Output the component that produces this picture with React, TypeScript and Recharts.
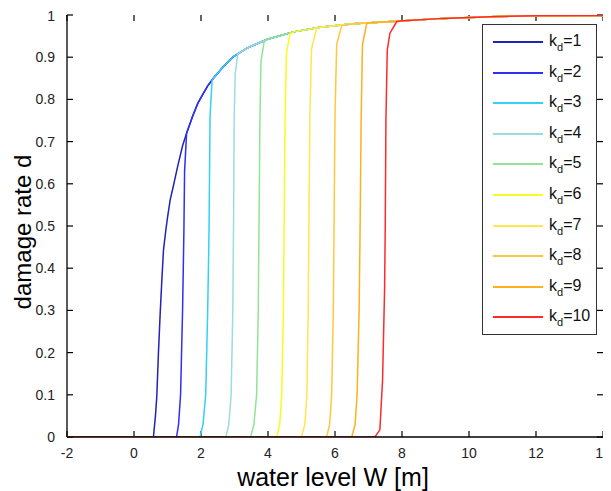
import { LineChart, Line, XAxis, YAxis, Label, ReferenceLine } from "recharts";

// common upper curve (kd=1 follows it from the start)
const envW = [0.58, 0.64, 0.68, 0.73, 0.78, 0.83, 0.88, 0.95, 1.0, 1.08, 1.17, 1.3, 1.45, 1.57, 1.75, 1.9, 2.07, 2.2, 2.37, 2.67, 2.96, 3.36, 3.96, 4.76, 5.55, 6.55, 7.94, 9.23, 10.63, 12, 14];
const envD = [0, 0.05, 0.095, 0.2, 0.29, 0.37, 0.443, 0.49, 0.52, 0.562, 0.593, 0.64, 0.69, 0.72, 0.76, 0.79, 0.814, 0.832, 0.85, 0.878, 0.901, 0.921, 0.942, 0.96, 0.971, 0.979, 0.986, 0.992, 0.996, 0.998, 0.999];

// steep rise of each curve until it meets the upper curve
const rampW: number[][] = [
  [],
  [1.27, 1.33, 1.39, 1.45, 1.49, 1.51, 1.57],
  [1.97, 2.06, 2.14, 2.2, 2.24, 2.27, 2.33],
  [2.74, 2.83, 2.9, 2.95, 2.97, 2.99, 3.02, 3.1],
  [3.48, 3.58, 3.66, 3.71, 3.73, 3.76, 3.79, 3.88],
  [4.26, 4.35, 4.41, 4.46, 4.48, 4.51, 4.55, 4.66],
  [5.0, 5.1, 5.16, 5.2, 5.22, 5.25, 5.3, 5.45],
  [5.75, 5.84, 5.9, 5.95, 5.97, 6.0, 6.05, 6.2],
  [6.5, 6.6, 6.66, 6.72, 6.75, 6.78, 6.82, 6.95],
  [7.19, 7.34, 7.42, 7.48, 7.5, 7.52, 7.56, 7.64, 7.84],
];
const rampD: number[][] = [
  [],
  [0, 0.03, 0.1, 0.3, 0.49, 0.63, 0.72],
  [0, 0.03, 0.1, 0.3, 0.49, 0.76, 0.845],
  [0, 0.03, 0.1, 0.3, 0.49, 0.75, 0.86, 0.908],
  [0, 0.03, 0.1, 0.3, 0.49, 0.76, 0.89, 0.935],
  [0, 0.03, 0.1, 0.3, 0.49, 0.76, 0.91, 0.956],
  [0, 0.03, 0.1, 0.3, 0.49, 0.76, 0.92, 0.968],
  [0, 0.03, 0.1, 0.3, 0.49, 0.76, 0.93, 0.975],
  [0, 0.03, 0.1, 0.3, 0.5, 0.75, 0.93, 0.981],
  [0, 0.017, 0.135, 0.35, 0.5, 0.75, 0.917, 0.957, 0.984],
];

const colors = ["#2323b4", "#2f2ff5", "#33d0f8", "#9cdcdc", "#90e496", "#fafa1e", "#ffe650", "#ffc83c", "#ffb01e", "#ff2a2a"];
const names = ["1", "2", "3", "4", "5", "6", "7", "8", "9", "10"];

const xTicks = [-2, 0, 2, 4, 6, 8, 10, 12, 14];
const yTicks = [0, 0.1, 0.2, 0.3, 0.4, 0.5, 0.6, 0.7, 0.8, 0.9, 1];

function seriesData(i: number) {
  const pts = [{ x: -2, y: 0 }];
  if (i === 0) {
    envW.forEach((w, j) => pts.push({ x: w, y: envD[j] }));
    return pts;
  }
  const rw = rampW[i];
  rw.forEach((w, j) => pts.push({ x: w, y: rampD[i][j] }));
  const last = rw[rw.length - 1];
  envW.forEach((w, j) => {
    if (w > last) pts.push({ x: w, y: envD[j] });
  });
  return pts;
}

const font = "Arial, 'Liberation Sans', Helvetica, sans-serif";
const tickStyle = { fontSize: 14, fill: "#222", fontFamily: font };
const blank = () => "";
// inward tick length expressed in axis units (about 6px)
const tickLenX = 0.18;
const tickLenY = 0.014;

export default function App() {
  return (
    <div style={{ position: "relative", width: 611, height: 483, fontFamily: font }}>
      <style>{"html{overflow:hidden}"}</style>
      <LineChart width={611} height={483} margin={{ top: 7, right: 16, left: 0, bottom: 0 }}>
        <XAxis
          xAxisId="b"
          dataKey="x"
          type="number"
          domain={[-2, 14]}
          ticks={xTicks}
          allowDataOverflow
          height={54}
          tickSize={0}
          tickMargin={11}
          tickLine={false}
          tick={tickStyle}
          stroke="#000"
          strokeWidth={1.3}
        >
          <Label
            content={() => (
              <text x={325} y={478} textAnchor="middle" fontSize={25} fill="#000" fontFamily={font}>
                water level W [m]
              </text>
            )}
          />
        </XAxis>
        <YAxis
          yAxisId="l"
          type="number"
          domain={[0, 1]}
          ticks={yTicks}
          allowDataOverflow
          width={59}
          tickSize={0}
          tickMargin={12}
          tickLine={false}
          tick={tickStyle}
          stroke="#000"
          strokeWidth={1.3}
        >
          <Label
            content={() => (
              <text x={23} y={224} transform="rotate(-90 23 224)" textAnchor="middle" fontSize={24} fill="#000" fontFamily={font}>
                damage rate d
              </text>
            )}
          />
        </YAxis>
        {/* top / right frame */}
        <XAxis xAxisId="tm" type="number" orientation="top" mirror domain={[-2, 14]} ticks={xTicks} allowDataOverflow height={0} tickLine={false} tickFormatter={blank} stroke="#000" strokeWidth={1.3} />
        <YAxis yAxisId="rm" type="number" orientation="right" mirror domain={[0, 1]} ticks={yTicks} allowDataOverflow width={0} tickLine={false} tickFormatter={blank} stroke="#000" strokeWidth={1.3} />
        {/* inward tick marks on all four sides */}
        {xTicks.map((t) => (
          <ReferenceLine key={"xb" + t} xAxisId="b" yAxisId="l" segment={[{ x: t, y: 0 }, { x: t, y: tickLenY }]} stroke="#000" strokeWidth={1.2} />
        ))}
        {xTicks.map((t) => (
          <ReferenceLine key={"xt" + t} xAxisId="b" yAxisId="l" segment={[{ x: t, y: 1 }, { x: t, y: 1 - tickLenY }]} stroke="#000" strokeWidth={1.2} />
        ))}
        {yTicks.map((t) => (
          <ReferenceLine key={"yl" + t} xAxisId="b" yAxisId="l" segment={[{ x: -2, y: t }, { x: -2 + tickLenX, y: t }]} stroke="#000" strokeWidth={1.2} />
        ))}
        {yTicks.map((t) => (
          <ReferenceLine key={"yr" + t} xAxisId="b" yAxisId="l" segment={[{ x: 14, y: t }, { x: 14 - tickLenX, y: t }]} stroke="#000" strokeWidth={1.2} />
        ))}
        {colors.map((c, i) => (
          <Line
            key={i}
            xAxisId="b"
            yAxisId="l"
            data={seriesData(i)}
            dataKey="y"
            type="linear"
            stroke={c}
            strokeWidth={1.5}
            dot={false}
            isAnimationActive={false}
          />
        ))}
      </LineChart>
      <div
        style={{
          position: "absolute",
          left: 474,
          top: 16,
          width: 113,
          height: 309,
          border: "1px solid #333",
          background: "#fff",
        }}
      >
        {names.map((n, i) => (
          <div key={n} style={{ position: "absolute", left: 0, top: 17 + i * 30.6 - 10, height: 20, width: 113 }}>
            <div style={{ position: "absolute", left: 10, top: 9, width: 50, height: 2, background: colors[i] }} />
            <div style={{ position: "absolute", left: 66, top: -1, fontSize: 16, lineHeight: "20px", color: "#111", whiteSpace: "nowrap" }}>
              k<sub style={{ fontSize: 11, verticalAlign: "-5px", lineHeight: 0 }}>d</sub>={n}
            </div>
          </div>
        ))}
      </div>
    </div>
  );
}
